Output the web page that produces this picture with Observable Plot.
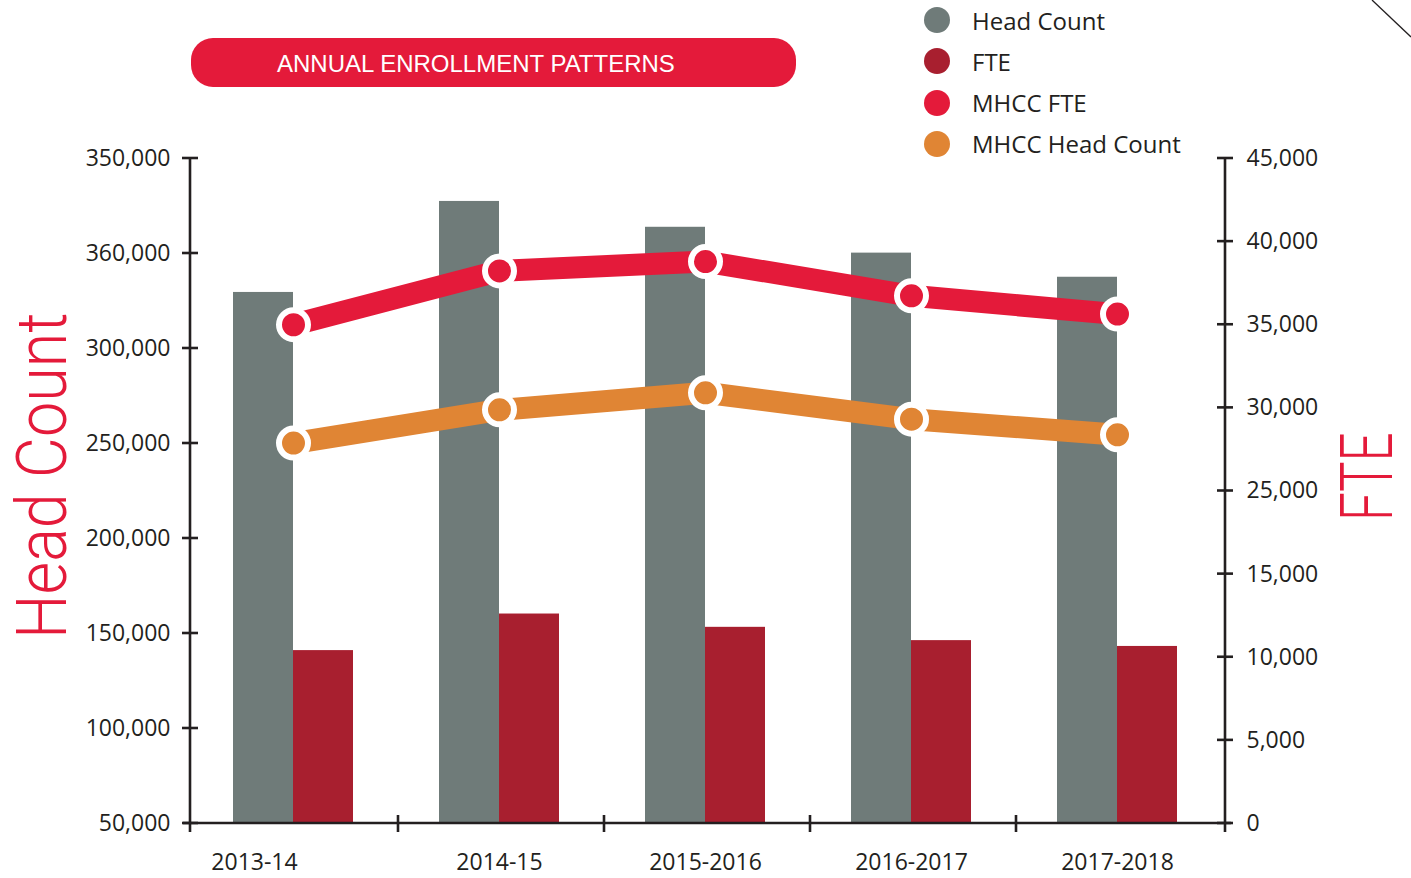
<!DOCTYPE html>
<html>
<head>
<meta charset="utf-8">
<script src="https://cdn.jsdelivr.net/npm/d3@7"></script>
<script src="https://cdn.jsdelivr.net/npm/@observablehq/plot@0.6"></script>
<style>
  html, body { margin: 0; padding: 0; background: #fff; }
  #wrap { position: relative; width: 1411px; height: 878px; font-family: "Open Sans", sans-serif; color: #231f20; }
  #chart { position: absolute; left: 0; top: 0; }
  #pill { position: absolute; left: 191px; top: 38px; width: 605px; height: 49px; border-radius: 22px; background: #e41a3a; color: #fff;
          font-family: "Liberation Sans", Arial, sans-serif; font-size: 24px; line-height: 52px; box-sizing: border-box; padding-left: 86px; white-space: nowrap; }
  .item { position: absolute; left: 924px; height: 30px; display: flex; align-items: center; white-space: nowrap; font-size: 24px; color: #231f20; }
  .sw { width: 26px; height: 26px; border-radius: 50%; margin-right: 22px; flex: none; }
  .vt { position: absolute; writing-mode: vertical-rl; font-family: Roboto, "Open Sans", sans-serif; font-weight: 300; line-height: 1; white-space: nowrap; color: #e41a3a; transform-origin: 50% 50%; }
  #overlay { position: absolute; left: 0; top: 0; pointer-events: none; }
</style>
</head>
<body>
<div id="wrap">
  <div id="chart"></div>
  <div id="pill">ANNUAL ENROLLMENT PATTERNS</div>
  <div id="legend"></div>
  <div class="vt" id="ytitle" style="font-size:70px;left:4px;">Head Count</div>
  <div class="vt" id="y2title" style="font-size:72px;left:1336px;">FTE</div>
  <svg id="overlay" width="1411" height="878"></svg>
</div>
<script>
// ---- data ----
const years = ["2013-14", "2014-15", "2015-2016", "2016-2017", "2017-2018"];
const headCount = [329500, 377400, 363800, 350200, 337500];     // left axis
const fte = [10400, 12600, 11800, 11000, 10650];                 // right axis
const mhccFte = [35000, 38240, 38800, 36740, 35640];             // right axis
const mhccHeadCount = [250200, 267700, 276700, 262800, 254600];  // left axis

const leftTickValues = [50000, 100000, 150000, 200000, 250000, 300000, 350000, 400000];
const leftTickLabels = ["50,000", "100,000", "150,000", "200,000", "250,000", "300,000", "360,000", "350,000"];
const rightTickValues = [0, 5000, 10000, 15000, 25000, 30000, 35000, 40000, 45000];

const legendNames = ["Head Count", "FTE", "MHCC FTE", "MHCC Head Count"];
const colors = ["#6f7b79", "#a81f2f", "#e41a3a", "#e08534"];

// ---- scales helpers ----
const yMin = leftTickValues[0], yMax = leftTickValues[leftTickValues.length - 1];
// right (FTE) axis ticks are evenly spaced along the same height as the left axis
const fteToLeft = d3.scaleLinear()
  .domain(rightTickValues)
  .range(rightTickValues.map((_, i) => yMin + i * (yMax - yMin) / (rightTickValues.length - 1)));
const rightTickPos = rightTickValues.map(fteToLeft);

const rows = years.map((year, i) => ({
  year,
  headCount: headCount[i],
  fte: fte[i],
  mhccFte: mhccFte[i],
  mhccHeadCount: mhccHeadCount[i]
}));

const INK = "#231f20";

// axis lines, crossing ticks and category boundary ticks
function axisDecor(index, scales, values, dimensions) {
  const {x, y} = scales;
  const {width, height, marginTop, marginRight, marginBottom, marginLeft} = dimensions;
  const left = marginLeft, right = width - marginRight, bottom = height - marginBottom;
  const g = d3.create("svg:g").attr("stroke", INK).attr("stroke-width", 2.6).attr("fill", "none");
  g.append("line").attr("x1", left).attr("x2", left).attr("y1", marginTop - 1).attr("y2", bottom + 9);
  g.append("line").attr("x1", right).attr("x2", right).attr("y1", y(fteToLeft(rightTickValues[rightTickValues.length - 1]))).attr("y2", bottom + 9);
  g.append("line").attr("x1", left - 7).attr("x2", right + 6).attr("y1", bottom).attr("y2", bottom);
  for (const v of leftTickValues) {
    g.append("line").attr("x1", left - 8).attr("x2", left + 8).attr("y1", y(v)).attr("y2", y(v));
  }
  for (const v of rightTickPos) {
    g.append("line").attr("x1", right - 8).attr("x2", right + 8).attr("y1", y(v)).attr("y2", y(v));
  }
  const x0 = x(years[0]), step = x(years[1]) - x(years[0]);
  const bw = x.bandwidth ? x.bandwidth() : 60;
  for (let i = 1; i < years.length; i++) {
    const xb = x0 - (step - bw) / 2 + i * step + 2;
    g.append("line").attr("x1", xb).attr("x2", xb).attr("y1", bottom - 8).attr("y2", bottom + 9);
  }
  return g.node();
}

const plot = Plot.plot({
  width: 1411,
  height: 878,
  marginTop: 158,
  marginRight: 186,
  marginBottom: 55,
  marginLeft: 190,
  style: {fontFamily: "'Open Sans', sans-serif", fontSize: "23px", color: INK, background: "transparent"},
  x: {type: "band", domain: years, paddingInner: 0.709, paddingOuter: 0.364, align: 0.48, label: null},
  y: {domain: [yMin, yMax], label: null},
  marks: [
    Plot.barY(rows, {x: "year", y1: () => yMin, y2: "headCount", fill: colors[0], dx: -30, inset: 0}),
    Plot.barY(rows, {x: "year", y1: () => yMin, y2: d => fteToLeft(d.fte), fill: colors[1], dx: 30, inset: 0}),
    axisDecor,
    Plot.line(rows, {x: "year", y: "mhccHeadCount", stroke: colors[3], strokeWidth: 22}),
    Plot.dot(rows, {x: "year", y: "mhccHeadCount", r: 14.5, fill: colors[3], stroke: "white", strokeWidth: 6}),
    Plot.line(rows, {x: "year", y: d => fteToLeft(d.mhccFte), stroke: colors[2], strokeWidth: 22}),
    Plot.dot(rows, {x: "year", y: d => fteToLeft(d.mhccFte), r: 14.5, fill: colors[2], stroke: "white", strokeWidth: 6}),
    Plot.axisY({anchor: "left", ticks: leftTickValues, tickSize: 0, tickPadding: 20, fontSize: 23,
      tickFormat: d => leftTickLabels[leftTickValues.indexOf(d)]}),
    Plot.axisY({anchor: "right", ticks: rightTickPos, tickSize: 0, tickPadding: 21, fontSize: 23,
      tickFormat: d => d3.format(",")(rightTickValues[rightTickPos.indexOf(d)])}),
    Plot.axisX({ticks: years.slice(0, 1), tickSize: 0, tickPadding: 30, fontSize: 23, dx: -39}),
    Plot.axisX({ticks: years.slice(1), tickSize: 0, tickPadding: 30, fontSize: 23, dx: 0})
  ]
});
document.getElementById("chart").appendChild(plot);

// legend
const legend = document.getElementById("legend");
legendNames.forEach((name, i) => {
  const item = document.createElement("div");
  item.className = "item";
  item.style.top = (5 + i * 41.3) + "px";
  const sw = document.createElement("span");
  sw.className = "sw";
  sw.style.background = colors[i];
  const label = document.createElement("span");
  label.textContent = name;
  item.appendChild(sw);
  item.appendChild(label);
  legend.appendChild(item);
});

// vertical axis titles: read bottom-to-top, compressed to the reference's length,
// then nudged so the whole text box stays inside the page
function placeTitle(id, centerY, length) {
  const el = document.getElementById(id);
  const natural = el.offsetHeight;
  el.style.top = (centerY - natural / 2) + "px";
  el.style.transform = `rotate(180deg) scaleY(${length / natural})`;
  const range = document.createRange();
  range.selectNodeContents(el);
  const b = range.getBoundingClientRect();
  let shift = 0;
  if (b.left < 1) shift = 1 - b.left;
  if (b.right > 1410) shift = 1410 - b.right;
  el.style.left = (parseFloat(el.style.left) + shift) + "px";
}
placeTitle("ytitle", 475, 326);
placeTitle("y2title", 476, 88);

// corner decoration
d3.select("#overlay").append("line").attr("x1", 1372).attr("y1", 0).attr("x2", 1411).attr("y2", 37)
  .attr("stroke", INK).attr("stroke-width", 1.3);
</script>
</body>
</html>
